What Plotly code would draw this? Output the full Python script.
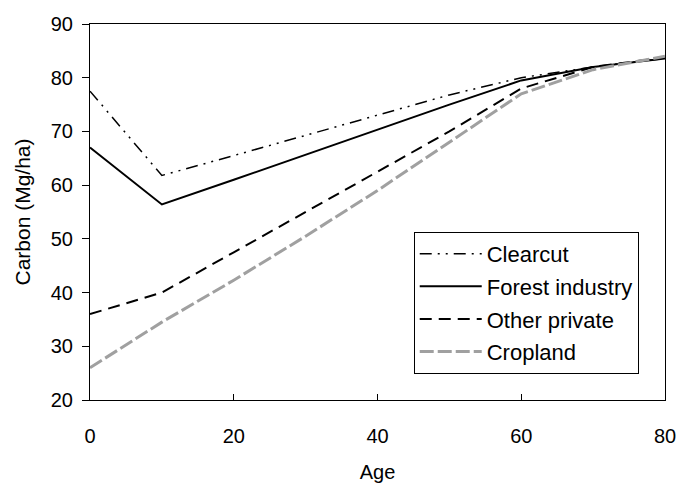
import plotly.graph_objects as go

age = [0, 10, 20, 30, 40, 50, 60, 70, 80]
clearcut = [77.5, 61.8, 65.5, 69.3, 73.0, 76.8, 80.0, 82.0, 83.6]
forest_industry = [67.0, 56.4, 61.0, 65.7, 70.3, 75.0, 79.5, 82.0, 83.6]
other_private = [36.0, 40.0, 47.5, 55.0, 62.5, 70.0, 78.0, 82.0, 83.8]
cropland = [26.0, 34.5, 42.3, 50.5, 59.0, 68.0, 77.0, 81.5, 84.0]

font = "Liberation Sans, Arial, Helvetica, sans-serif"

fig = go.Figure()
fig.add_trace(go.Scatter(x=age, y=clearcut, name="Clearcut", mode="lines", legendgroup="a",
                         line=dict(color="black", width=1.5, dash="12px,6px,2px,6px,2px,6px")))
fig.add_trace(go.Scatter(x=age, y=forest_industry, name="Forest industry", mode="lines", legendgroup="b",
                         line=dict(color="black", width=2)))
fig.add_trace(go.Scatter(x=age, y=other_private, name="Other private", mode="lines", legendgroup="c",
                         line=dict(color="black", width=2, dash="12px,7px")))
fig.add_trace(go.Scatter(x=age, y=cropland, name="Cropland", mode="lines", legendgroup="d",
                         line=dict(color="#a0a0a0", width=3, dash="14px,4px")))

fig.update_layout(
    width=678, height=483,
    margin=dict(l=90, r=13, t=24, b=83),
    paper_bgcolor="white", plot_bgcolor="white",
    font=dict(family=font, size=20, color="black"),
    showlegend=True,
    legend=dict(x=0.563, y=0.447, xanchor="left", yanchor="top",
                bordercolor="black", borderwidth=1, bgcolor="white",
                font=dict(size=22), tracegroupgap=1, itemwidth=62),
    xaxis=dict(range=[0, 80], tickvals=[0, 20, 40, 60, 80], showgrid=False, zeroline=False,
               showline=True, linecolor="black", linewidth=1, mirror=True, automargin=False,
               ticks="inside", ticklen=6, tickcolor="black", ticklabelstandoff=18,
               title=dict(text="Age", standoff=20, font=dict(size=20))),
    yaxis=dict(range=[20, 90], tickvals=[20, 30, 40, 50, 60, 70, 80, 90], showgrid=False, zeroline=False,
               showline=True, linecolor="black", linewidth=1, mirror=True, automargin=False,
               ticks="outside", ticklen=7, tickcolor="black", ticklabelstandoff=5,
               title=dict(text="Carbon (Mg/ha)", standoff=14, font=dict(size=21))),
)

fig.write_html("out.html")
